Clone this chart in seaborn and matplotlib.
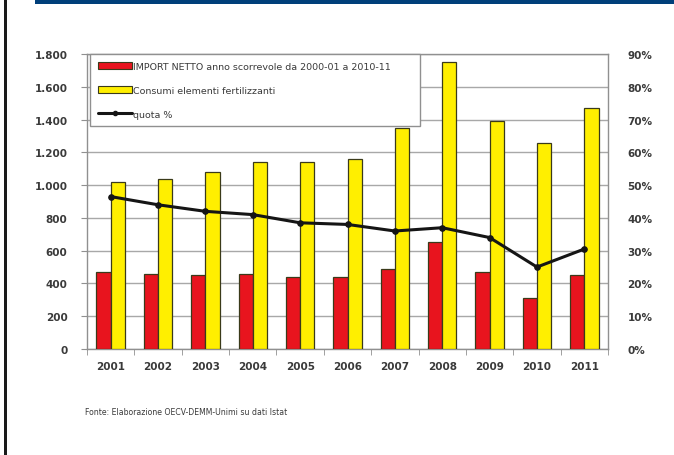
import numpy as np
import pandas as pd
import matplotlib
matplotlib.use("Agg")
import matplotlib.pyplot as plt
from matplotlib.patches import Rectangle
from matplotlib.lines import Line2D
from matplotlib.ticker import FuncFormatter, FixedLocator
import seaborn as sns

years = ["2001", "2002", "2003", "2004", "2005", "2006", "2007", "2008", "2009", "2010", "2011"]
import_netto = [470, 460, 450, 460, 440, 440, 490, 650, 470, 310, 450]
consumi = [1020, 1040, 1080, 1140, 1140, 1160, 1350, 1750, 1390, 1260, 1470]
quota = [0.465, 0.44, 0.42, 0.41, 0.385, 0.38, 0.36, 0.37, 0.34, 0.25, 0.305]

label_import = "IMPORT NETTO anno scorrevole da 2000-01 a 2010-11"
label_consumi = "Consumi elementi fertilizzanti"
label_quota = "quota %"
source_text = "Fonte: Elaborazione OECV-DEMM-Unimi su dati Istat"

left_ticks = [0, 200, 400, 600, 800, 1000, 1200, 1400, 1600, 1800]
right_ticks = [0, 0.1, 0.2, 0.3, 0.4, 0.5, 0.6, 0.7, 0.8, 0.9]

red = "#e8141e"
yellow = "#ffef00"
edge = "#3a3a1a"
grid_c = "#a8a8a8"
text_c = "#3a3a3a"

df = pd.DataFrame({
    "anno": years * 2,
    "valore": import_netto + consumi,
    "serie": [label_import] * len(years) + [label_consumi] * len(years),
})

sns.set_style("white")
plt.rcParams["font.family"] = ["DejaVu Sans"]

fig = plt.figure(figsize=(6.74, 4.56), dpi=100)
ax = fig.add_axes([87 / 674, 1 - 350 / 456, (608 - 87) / 674, (350 - 55) / 456])

sns.barplot(data=df, x="anno", y="valore", hue="serie", order=years,
            hue_order=[label_import, label_consumi],
            palette=[red, yellow], saturation=1, width=0.6, ax=ax,
            edgecolor=edge, linewidth=0.9, legend=False, zorder=3)

ax.set_xlim(-0.5, len(years) - 0.5)
ax.set_ylim(0, 1800)
ax.yaxis.set_major_locator(FixedLocator(left_ticks))
ax.yaxis.set_major_formatter(FuncFormatter(lambda v, p: f"{int(v):,}".replace(",", ".")))
ax.grid(axis="y", color=grid_c, linewidth=1.0, zorder=0)
ax.set_axisbelow(True)
ax.set_xlabel("")
ax.set_ylabel("")
for s in ax.spines.values():
    s.set_visible(True)
    s.set_color("#909090")
    s.set_linewidth(1.0)

ax.xaxis.set_minor_locator(FixedLocator(np.arange(-0.5, len(years), 1.0)))
ax.tick_params(axis="x", which="major", length=0, pad=9, labelsize=7.5, colors=text_c)
ax.tick_params(axis="x", which="minor", length=4, direction="out", color="#909090", bottom=True)
ax.tick_params(axis="y", length=4, direction="out", color="#909090", left=True, pad=10,
               labelsize=7.5, colors=text_c)
for t in ax.get_xticklabels() + ax.get_yticklabels():
    t.set_fontweight("bold")

ax2 = ax.twinx()
sns.lineplot(x=np.arange(len(years)), y=quota, ax=ax2, color="#151515", linewidth=2.2,
             marker="o", markersize=4, markeredgecolor="#151515", zorder=5, legend=False)
ax2.set_ylim(0, 0.9)
ax2.yaxis.set_major_locator(FixedLocator(right_ticks))
ax2.yaxis.set_major_formatter(FuncFormatter(lambda v, p: f"{round(v * 100)}%"))
ax2.tick_params(axis="y", length=0, pad=14, labelsize=7.5, colors=text_c)
for t in ax2.get_yticklabels():
    t.set_fontweight("bold")
for s in ax2.spines.values():
    s.set_visible(False)
ax2.set_xlim(-0.5, len(years) - 0.5)

handles = [
    Rectangle((0, 0), 1, 1, facecolor=red, edgecolor=edge, linewidth=0.8),
    Rectangle((0, 0), 1, 1, facecolor=yellow, edgecolor=edge, linewidth=0.8),
    Line2D([0], [0], color="#151515", linewidth=2.2, marker="o", markersize=3),
]
# legend box stretched to a fixed width inside the plot area
leg = ax2.legend(handles, [label_import, label_consumi, label_quota],
                 loc="upper left", mode="expand",
                 bbox_to_anchor=(3 / 521, 0.0, (420 - 90) / 521, 1.0), fontsize=6.8,
                 frameon=True, fancybox=False, edgecolor="#909090", framealpha=1,
                 handlelength=3.6, handleheight=0.7, labelspacing=1.6,
                 borderpad=0.75, handletextpad=0.15, borderaxespad=0.05)
leg.get_frame().set_linewidth(1.0)
for t in leg.get_texts():
    t.set_color(text_c)

fig.text(85 / 674, 1 - 413 / 456, source_text, fontsize=5.6, color=text_c, va="center")

# page frame: top band and left rule
fig.patches.append(Rectangle((35 / 674, 1 - 5 / 456), 1, 5 / 456, transform=fig.transFigure,
                             facecolor="#003f7a", edgecolor="none"))
fig.patches.append(Rectangle((4 / 674, 0), 2.5 / 674, 1, transform=fig.transFigure,
                             facecolor="#1a1a1a", edgecolor="none"))

fig.savefig("out.png", dpi=100)
